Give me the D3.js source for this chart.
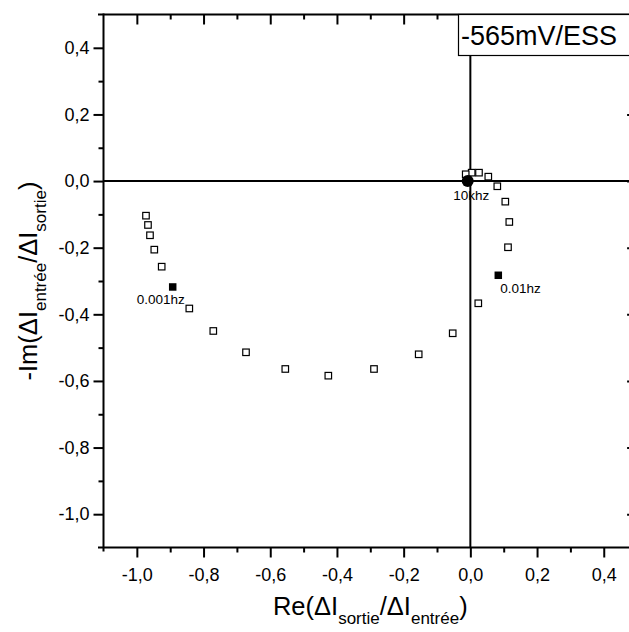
<!DOCTYPE html>
<html><head><meta charset="utf-8">
<script src="https://cdn.jsdelivr.net/npm/d3@7"></script>
<style>
body{margin:0;background:#fff}
svg{display:block}
text{font-family:"Liberation Sans",Arial,Helvetica,sans-serif;fill:#000}
</style>
</head><body>
<svg id="chart" width="629" height="632"></svg>
<script>
// ---- data ----
const openRe = [0.0040, 0.0259, 0.0538, 0.0808, 0.1048, 0.1168, 0.1129, 0.0238, -0.0529, -0.1549, -0.2889, -0.4259, -0.5549, -0.6727, -0.7708, -0.8427, -0.9255, -0.9477, -0.9606, -0.9666, -0.9726, -0.0139];
const openIm = [0.0252, 0.0252, 0.0132, -0.0156, -0.0618, -0.1228, -0.1987, -0.3669, -0.4569, -0.5200, -0.5641, -0.5842, -0.5641, -0.5140, -0.4500, -0.3825, -0.2570, -0.2059, -0.1627, -0.1318, -0.1039, 0.0204];
const filledRe = [0.0838, -0.8925];
const filledIm = [-0.2828, -0.3179];
const filledLabels = ["0.01hz", "0.001hz"];
const originRe = [-0.008];
const originIm = [0.0];
const originLabels = ["10khz"];
const xTicks = [-1.0, -0.8, -0.6, -0.4, -0.2, 0.0, 0.2, 0.4];
const xMinor = [-0.9, -0.7, -0.5, -0.3, -0.1, 0.1, 0.3];
const yTicks = [-1.0, -0.8, -0.6, -0.4, -0.2, 0.0, 0.2, 0.4];
const yMinor = [-0.9, -0.7, -0.5, -0.3, -0.1, 0.1, 0.3];
const legendText = "-565mV/ESS";

// ---- drawing ----
const svg = d3.select("#chart");
const x = d3.scaleLinear().domain([-1.1, 0.5]).range([103.5, 637.1]);
const y = d3.scaleLinear().domain([-1.1, 0.5]).range([547.5, 14.5]);
const loc = d3.formatLocale({decimal: ",", thousands: ".", grouping: [3], currency: ["", ""], minus: "-"});
const fmt = loc.format(".1f");

function styleAxis(g){
  g.select(".domain").remove();
  g.selectAll(".tick line").attr("stroke", "#000").attr("stroke-width", 2);
  g.selectAll(".tick text").style("font-size", "18px").attr("fill", "#000")
    .style("font-family", '"Liberation Sans",Arial,sans-serif');
}

// zero lines
svg.append("line").attr("x1", x(-1.1)).attr("x2", 640).attr("y1", y(0)).attr("y2", y(0))
  .attr("stroke", "#000").attr("stroke-width", 2);
svg.append("line").attr("x1", x(0)).attr("x2", x(0)).attr("y1", y(0.5)).attr("y2", y(-1.1))
  .attr("stroke", "#000").attr("stroke-width", 2);

// bottom axis
const gb = svg.append("g").attr("transform", `translate(0,${y(-1.1)})`)
  .call(d3.axisBottom(x).tickValues(xTicks).tickSize(10).tickPadding(11).tickFormat(fmt));
styleAxis(gb);
const gbm = svg.append("g").attr("transform", `translate(0,${y(-1.1)})`)
  .call(d3.axisBottom(x).tickValues(xMinor).tickSize(5).tickFormat(""));
styleAxis(gbm);
// top axis (inward ticks)
const gt = svg.append("g").attr("transform", `translate(0,${y(0.5)})`)
  .call(d3.axisTop(x).tickValues(xTicks).tickSize(-10).tickFormat(""));
styleAxis(gt);
const gtm = svg.append("g").attr("transform", `translate(0,${y(0.5)})`)
  .call(d3.axisTop(x).tickValues(xMinor).tickSize(-5).tickFormat(""));
styleAxis(gtm);
// left axis
const gl = svg.append("g").attr("transform", `translate(${x(-1.1)},0)`)
  .call(d3.axisLeft(y).tickValues(yTicks).tickSize(10).tickPadding(4).tickFormat(fmt));
styleAxis(gl);
const glm = svg.append("g").attr("transform", `translate(${x(-1.1)},0)`)
  .call(d3.axisLeft(y).tickValues(yMinor).tickSize(5).tickFormat(""));
styleAxis(glm);
// right axis (inward ticks, mostly off-canvas)
const gr = svg.append("g").attr("transform", `translate(${x(0.5)},0)`)
  .call(d3.axisRight(y).tickValues(yTicks).tickSize(-10).tickFormat(""));
styleAxis(gr);
const grm = svg.append("g").attr("transform", `translate(${x(0.5)},0)`)
  .call(d3.axisRight(y).tickValues(yMinor).tickSize(-5).tickFormat(""));
styleAxis(grm);

// frame lines
svg.append("line").attr("x1", 98).attr("x2", 640).attr("y1", y(-1.1)).attr("y2", y(-1.1)).attr("stroke", "#000").attr("stroke-width", 2);
svg.append("line").attr("x1", 98).attr("x2", 640).attr("y1", y(0.5)).attr("y2", y(0.5)).attr("stroke", "#000").attr("stroke-width", 2);
svg.append("line").attr("x1", x(-1.1)).attr("x2", x(-1.1)).attr("y1", y(0.5) - 1).attr("y2", y(-1.1) + 4).attr("stroke", "#000").attr("stroke-width", 2);
svg.append("line").attr("x1", x(0.5)).attr("x2", x(0.5)).attr("y1", y(0.5)).attr("y2", y(-1.1)).attr("stroke", "#000").attr("stroke-width", 2);

// open squares
const sq = 6.5;
svg.append("g").selectAll("rect").data(d3.range(openRe.length)).join("rect")
  .attr("x", i => x(openRe[i]) - sq / 2).attr("y", i => y(openIm[i]) - sq / 2)
  .attr("width", sq).attr("height", sq)
  .attr("fill", "#fff").attr("stroke", "#000").attr("stroke-width", 1.2);
// filled squares
const fs = 7.5;
svg.append("g").selectAll("rect").data(d3.range(filledRe.length)).join("rect")
  .attr("x", i => x(filledRe[i]) - fs / 2).attr("y", i => y(filledIm[i]) - fs / 2)
  .attr("width", fs).attr("height", fs).attr("fill", "#000");
// origin circle
svg.append("g").selectAll("circle").data(d3.range(originRe.length)).join("circle")
  .attr("cx", i => x(originRe[i])).attr("cy", i => y(originIm[i])).attr("r", 6).attr("fill", "#000");

// point labels
const labelOffset = {"0.01hz": [2, 17.5], "0.001hz": [-36, 17], "10khz": [-14.5, 19]};
const lab = svg.append("g").style("font-size", "13.5px");
filledLabels.forEach((t, i) => {
  lab.append("text").attr("x", x(filledRe[i]) + labelOffset[t][0]).attr("y", y(filledIm[i]) + labelOffset[t][1]).text(t);
});
originLabels.forEach((t, i) => {
  lab.append("text").attr("x", x(originRe[i]) + labelOffset[t][0]).attr("y", y(originIm[i]) + labelOffset[t][1]).text(t);
});

// legend box
svg.append("rect").attr("x", 458.5).attr("y", y(0.5)).attr("width", 200).attr("height", 41)
  .attr("fill", "#fff").attr("stroke", "#000").attr("stroke-width", 1.2);
svg.append("text").attr("x", 461).attr("y", 45).style("font-size", "27px").text(legendText);

// axis titles
const xt = svg.append("text").attr("x", (x(-1.1) + x(0.5)) / 2).attr("y", 615)
  .attr("text-anchor", "middle").style("font-size", "25.5px");
xt.append("tspan").text("Re(ΔI");
xt.append("tspan").attr("dy", 9).style("font-size", "17px").text("sortie");
xt.append("tspan").attr("dy", -9).text("/ΔI");
xt.append("tspan").attr("dy", 9).style("font-size", "17px").text("entrée");
xt.append("tspan").attr("dy", -9).text(")");

const yt = svg.append("text").attr("transform", `translate(37,${(y(-1.1) + y(0.5)) / 2}) rotate(-90)`)
  .attr("text-anchor", "middle").style("font-size", "25.5px");
yt.append("tspan").text("-Im(ΔI");
yt.append("tspan").attr("dy", 9).style("font-size", "17px").text("entrée");
yt.append("tspan").attr("dy", -9).text("/ΔI");
yt.append("tspan").attr("dy", 9).style("font-size", "17px").text("sortie");
yt.append("tspan").attr("dy", -9).text(")");
</script>
</body></html>
